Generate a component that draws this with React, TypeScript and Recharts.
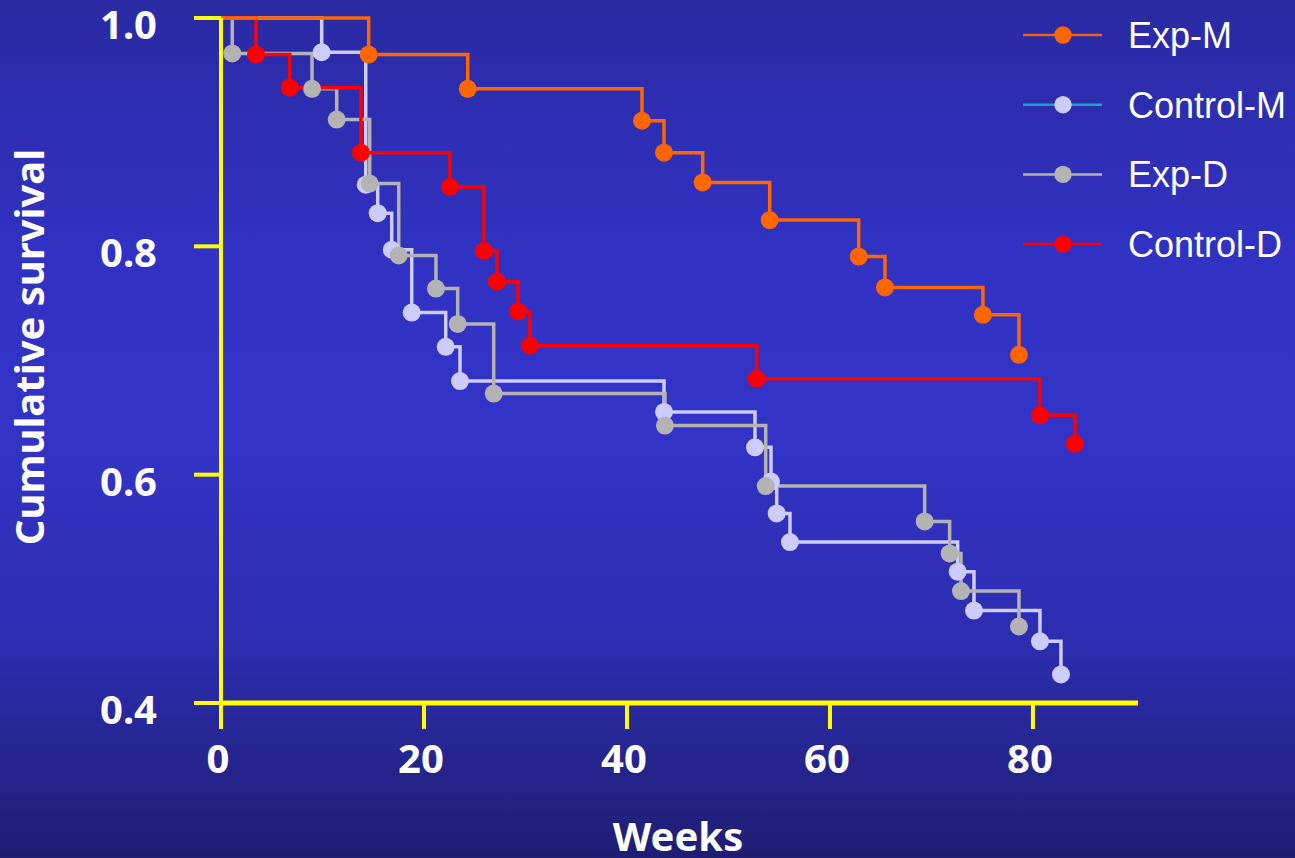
import React from 'react';
import { LineChart, Line, XAxis, YAxis, Legend } from 'recharts';

// ---- Data (weeks, cumulative survival) ----
const expMWeeks = [0, 14.55, 24.31, 41.48, 43.65, 47.46, 54.06, 62.83, 65.42, 75.07, 78.62];
const expMSurv = [1.0, 0.968, 0.938, 0.91, 0.882, 0.856, 0.823, 0.791, 0.764, 0.74, 0.705];

const ctrlMWeeks = [0, 9.92, 14.26, 15.44, 16.82, 18.79, 22.14, 23.55, 43.65, 52.61, 54.19, 54.75, 56.06, 72.58, 74.19, 80.69, 82.76];
const ctrlMSurv = [1.0, 0.97, 0.854, 0.829, 0.797, 0.742, 0.712, 0.682, 0.655, 0.624, 0.594, 0.566, 0.541, 0.515, 0.481, 0.454, 0.425];

const expDWeeks = [0, 1.11, 8.97, 11.4, 14.65, 17.51, 21.18, 23.32, 26.87, 43.74, 53.67, 69.33, 71.79, 72.91, 78.62];
const expDSurv = [1.0, 0.969, 0.938, 0.911, 0.855, 0.792, 0.763, 0.732, 0.671, 0.643, 0.59, 0.559, 0.531, 0.498, 0.467];

const ctrlDWeeks = [0, 3.45, 6.77, 13.79, 22.56, 25.91, 27.19, 29.26, 30.44, 52.78, 80.69, 84.14];
const ctrlDSurv = [1.0, 0.968, 0.939, 0.882, 0.852, 0.796, 0.769, 0.743, 0.713, 0.684, 0.652, 0.627];

const xTicks = [0, 20, 40, 60, 80];
const yTicks = [0.4, 0.6, 0.8, 1.0];
const seriesNames = ['Exp-M', 'Control-M', 'Exp-D', 'Control-D'];

const toPoints = (weeks: number[], surv: number[]) => weeks.map((t, i) => ({ t, s: surv[i] }));

const SERIES = [
  { name: seriesNames[0], data: toPoints(expMWeeks, expMSurv), color: '#ff6600', legendLine: '#e8641c' },
  { name: seriesNames[1], data: toPoints(ctrlMWeeks, ctrlMSurv), color: '#ccccff', legendLine: '#1a9fd6' },
  { name: seriesNames[2], data: toPoints(expDWeeks, expDSurv), color: '#b3b3b3', legendLine: '#b3b3b3' },
  { name: seriesNames[3], data: toPoints(ctrlDWeeks, ctrlDSurv), color: '#ff0000', legendLine: '#ff0000' },
];
const DRAW_ORDER = ['Control-M', 'Exp-D', 'Control-D', 'Exp-M'];

const TICK_FONT = "'Noto Sans', 'DejaVu Sans', sans-serif";
const AXIS_YELLOW = '#ffff00';

const makeDot = (color: string) => (props: any) => {
  const { cx, cy, index } = props;
  if (index === 0 || cx == null || cy == null) return <g key={`d-${index}`} />;
  return <circle key={`d-${index}`} cx={cx} cy={cy} r={9} fill={color} />;
};

const YTick = (props: any) => {
  const { x, y, payload } = props;
  return (
    <text x={x} y={y} dy={21} textAnchor="end" fill="#ffffff" fontSize={40} fontWeight="bold" fontFamily={TICK_FONT}>
      {Number(payload.value).toFixed(1)}
    </text>
  );
};

const XTick = (props: any) => {
  const { x, y, payload } = props;
  return (
    <text x={x - 3} y={y} dy={34} textAnchor="middle" fill="#ffffff" fontSize={40} fontWeight="bold" fontFamily={TICK_FONT}>
      {payload.value}
    </text>
  );
};

const renderLegend = () => (
  <svg width={285} height={280} style={{ overflow: 'visible', display: 'block' }}>
    {SERIES.map((s, i) => {
      const cy = 35 + i * 69.7;
      return (
        <g key={s.name}>
          <line x1={13} x2={92} y1={cy} y2={cy} stroke={s.legendLine} strokeWidth={2.5} />
          <circle cx={53} cy={cy} r={8.7} fill={s.color} />
          <text x={118} y={cy + 13} fill="#ffffff" fontSize={36} fontFamily="'Liberation Sans', Arial, sans-serif">
            {s.name}
          </text>
        </g>
      );
    })}
  </svg>
);

export default function App() {
  return (
    <div
      style={{
        position: 'absolute',
        left: 0,
        top: 0,
        width: 1295,
        height: 858,
        background: 'linear-gradient(to bottom, #2a2aa3 0%, #3131c2 28%, #3333c8 50%, #2d2db0 75%, #1f1d72 100%)',
      }}
    >
      <LineChart width={1295} height={858} margin={{ top: 18, right: 157, bottom: 0, left: 0 }}>
        <XAxis
          type="number"
          dataKey="t"
          domain={[0, 90.35]}
          ticks={xTicks}
          allowDataOverflow
          height={155}
          axisLine={{ stroke: AXIS_YELLOW, strokeWidth: 5 }}
          tickLine={{ stroke: AXIS_YELLOW, strokeWidth: 4 }}
          tickSize={26}
          tickMargin={10}
          tick={<XTick />}
          label={{
            content: () => (
              <text x={678} y={851} textAnchor="middle" fill="#ffffff" fontSize={40} fontWeight="bold" fontFamily={TICK_FONT}>
                Weeks
              </text>
            ),
          }}
        />
        <YAxis
          type="number"
          domain={[0.4, 1.0]}
          ticks={yTicks}
          width={221}
          axisLine={{ stroke: AXIS_YELLOW, strokeWidth: 4 }}
          tickLine={{ stroke: AXIS_YELLOW, strokeWidth: 4 }}
          tickSize={27}
          tickMargin={37}
          tick={<YTick />}
          label={{
            content: () => (
              <text
                x={44}
                y={347}
                transform="rotate(-90 44 347)"
                textAnchor="middle"
                fill="#ffffff"
                fontSize={40}
                fontWeight="bold"
                fontFamily={TICK_FONT}
              >
                Cumulative survival
              </text>
            ),
          }}
        />
        <Legend
          layout="vertical"
          align="right"
          verticalAlign="top"
          content={renderLegend}
          wrapperStyle={{ position: 'absolute', left: 1010, top: 0, width: 0, height: 0, overflow: 'visible' }}
        />
        {DRAW_ORDER.map((name) => {
          const s = SERIES.find((q) => q.name === name)!;
          return (
            <Line
              key={s.name}
              name={s.name}
              data={s.data}
              dataKey="s"
              type="stepAfter"
              stroke={s.color}
              strokeWidth={3.5}
              dot={makeDot(s.color)}
              activeDot={false}
              isAnimationActive={false}
              legendType="circle"
            />
          );
        })}
      </LineChart>
    </div>
  );
}
